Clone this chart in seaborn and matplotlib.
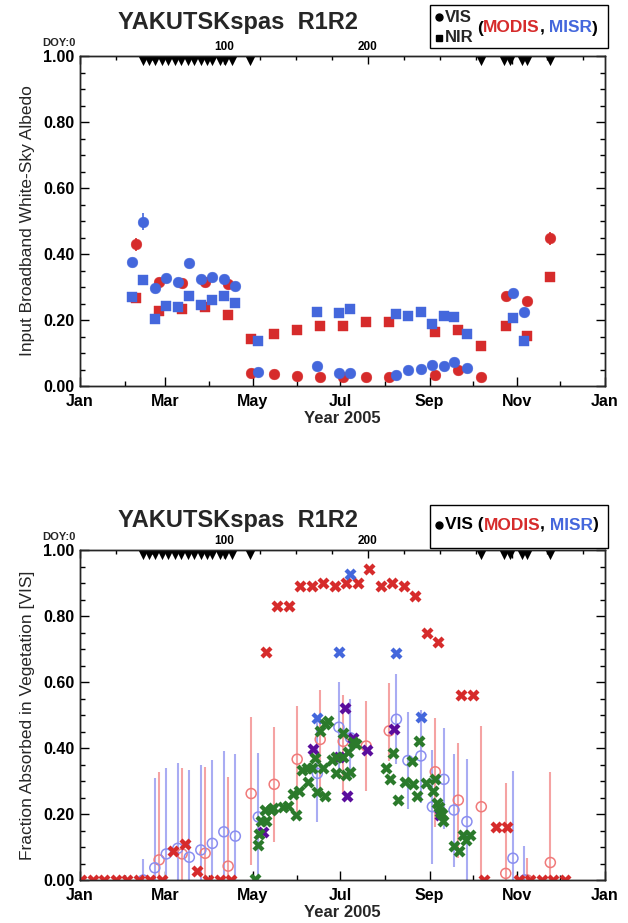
import numpy as np
import pandas as pd
import matplotlib
matplotlib.use("Agg")
import matplotlib.pyplot as plt
import matplotlib.transforms as mtransforms
from matplotlib.patches import Rectangle
from matplotlib.lines import Line2D
from matplotlib.ticker import MultipleLocator, FixedLocator, FixedFormatter
import seaborn as sns

# ---------------- data ----------------
title_text = "YAKUTSKspas  R1R2"
month_labels = ["Jan", "Mar", "May", "Jul", "Sep", "Nov", "Jan"]
month_major_doy = [0, 59, 120, 181, 243, 304, 365]
month_minor_doy = [31, 90, 151, 212, 273, 334]
doy_major = [0, 100, 200, 300]
doy_labels = ["", "100", "200", ""]
flag_doy = [44, 48, 52, 57, 61, 66, 70, 75, 79, 84, 88, 92, 97, 101, 106, 118,
            279, 295, 299, 307, 311, 327]

# top panel: broadband white-sky albedo
modis_doy = [39, 55, 71, 87, 103, 119, 135, 151, 167, 183, 199, 215, 247, 263, 279, 296, 311, 327]
modis_vis = [0.429, 0.316, 0.311, 0.316, 0.308, 0.040, 0.036, 0.030, 0.026, 0.026, 0.028, 0.028,
             0.033, 0.050, 0.026, 0.273, 0.259, 0.448]
modis_vis_err = [0.020, 0.004, 0.004, 0.004, 0.004, 0.003, 0.003, 0.002, 0.002, 0.002, 0.002, 0.002,
                 0.002, 0.003, 0.002, 0.006, 0.006, 0.020]
modis_nir = [0.268, 0.228, 0.233, 0.238, 0.215, 0.141, 0.157, 0.170, 0.182, 0.182, 0.195, 0.195,
             0.163, 0.170, 0.121, 0.182, 0.152, 0.330]

misr_doy = [36, 44, 52, 60, 68, 76, 84, 92, 100, 108, 124, 165, 180, 188, 220, 228, 237, 245,
            253, 260, 269, 301, 309]
misr_vis = [0.375, 0.498, 0.296, 0.326, 0.315, 0.372, 0.323, 0.331, 0.323, 0.303, 0.043, 0.061,
            0.038, 0.038, 0.033, 0.050, 0.053, 0.064, 0.061, 0.074, 0.056, 0.281, 0.223]
misr_vis_err = [0.012, 0.025, 0.004, 0.004, 0.004, 0.014, 0.004, 0.004, 0.004, 0.004, 0.002, 0.002,
                0.002, 0.002, 0.002, 0.002, 0.002, 0.002, 0.002, 0.002, 0.002, 0.006, 0.006]
misr_nir = [0.271, 0.321, 0.203, 0.242, 0.240, 0.274, 0.245, 0.261, 0.273, 0.251, 0.136, 0.225,
            0.222, 0.232, 0.217, 0.213, 0.223, 0.188, 0.213, 0.208, 0.157, 0.205, 0.137]

# bottom panel: FAPAR
modis8_doy = [1, 9, 17, 25, 33, 41, 49, 57, 65, 73, 81, 89, 97, 105, 129, 137, 145, 153, 161,
              169, 177, 185, 193, 201, 209, 217, 225, 233, 241, 249, 265, 273, 281, 289, 297,
              305, 313, 321, 329, 337]
modis8_fpar = [0, 0, 0, 0, 0, 0, 0, 0, 0.089, 0.109, 0.028, 0, 0, 0, 0.690, 0.830, 0.830, 0.891,
               0.891, 0.901, 0.891, 0.901, 0.901, 0.941, 0.891, 0.901, 0.891, 0.861, 0.750, 0.720,
               0.561, 0.561, 0, 0.160, 0.160, 0, 0, 0, 0, 0]

misrx_doy = [165, 180, 188, 220, 237]
misrx_fpar = [0.492, 0.690, 0.927, 0.689, 0.495]

purple_doy = [127, 162, 180, 184, 185.5, 189.5, 199.5, 218, 250.5]
purple_fpar = [0.144, 0.396, 0.372, 0.520, 0.256, 0.430, 0.395, 0.457, 0.197]

green_doy = [122.0, 123.8, 124.7, 125.9, 129.6, 128.3, 132.8, 134.4, 140.8, 144.9, 150.0, 147.9,
             152.6, 154.2, 157.6, 161.1, 158.8, 163.4, 164.5, 166.6, 170.0, 168.8, 170.4, 172.7,
             175.0, 178.0, 178.0, 182.8, 183.1, 184.6, 186.0, 188.0, 189.5, 191.9, 212.8, 215.6,
             217.4, 220.8, 226.0, 231.8, 230.9, 234.1, 235.9, 240.3, 245.3, 246.9, 248.0, 249.9,
             250.3, 251.5, 252.6, 260.3, 263.8, 266.1, 268.4, 271.2]
green_fpar = [0.002, 0.105, 0.140, 0.178, 0.178, 0.211, 0.212, 0.217, 0.221, 0.225, 0.197, 0.261,
              0.269, 0.333, 0.339, 0.338, 0.296, 0.369, 0.268, 0.453, 0.255, 0.338, 0.472, 0.481,
              0.365, 0.323, 0.374, 0.444, 0.374, 0.318, 0.388, 0.327, 0.417, 0.413, 0.338, 0.305,
              0.386, 0.243, 0.298, 0.290, 0.361, 0.255, 0.421, 0.295, 0.270, 0.305, 0.232, 0.222,
              0.207, 0.200, 0.180, 0.103, 0.089, 0.136, 0.121, 0.136]

mfc_doy = [55, 71, 87, 103, 119, 135, 151, 167, 183, 199, 215, 247, 263, 279, 296, 311, 327]
mfc_val = [0.061, 0.079, 0.081, 0.042, 0.262, 0.290, 0.366, 0.426, 0.420, 0.406, 0.452, 0.328,
           0.242, 0.222, 0.020, 0.0, 0.053]
mfc_lo = [0, 0, 0, 0, 0.045, 0.116, 0.207, 0.26, 0.265, 0.27, 0.36, 0.16, 0.066, 0.0, 0.0, 0.0, 0.0]
mfc_hi = [0.326, 0.340, 0.341, 0.311, 0.494, 0.464, 0.526, 0.577, 0.56, 0.542, 0.597, 0.492,
          0.416, 0.467, 0.295, 0.068, 0.328]

mbc_doy = [44, 52, 60, 68, 76, 84, 92, 100, 108, 124, 165, 180, 188, 220, 228, 237, 245, 253,
           260, 269, 301, 309]
mbc_val = [0.0, 0.037, 0.079, 0.096, 0.069, 0.091, 0.111, 0.146, 0.133, 0.191, 0.323, 0.463,
           0.431, 0.487, 0.362, 0.376, 0.222, 0.305, 0.212, 0.177, 0.066, 0.0]
mbc_lo = [0, 0, 0, 0, 0, 0, 0, 0, 0, 0, 0.177, 0.33, 0.31, 0.353, 0.215, 0.232, 0.048, 0.154,
          0.040, 0.0, 0.0, 0.0]
mbc_hi = [0.063, 0.31, 0.340, 0.354, 0.333, 0.348, 0.364, 0.392, 0.382, 0.384, 0.49, 0.599,
          0.55, 0.624, 0.508, 0.516, 0.394, 0.46, 0.382, 0.366, 0.331, 0.103]

# ---------------- style ----------------
sns.set_theme(style="ticks")
plt.rcParams["font.family"] = ["Liberation Sans", "DejaVu Sans"]
plt.rcParams["axes.linewidth"] = 1.0

RED = "#d62b2b"
BLUE = "#4467dc"
LRED = "#f07a7a"
LBLUE = "#8a8ef0"
LRED_BAR = "#f5a3a3"
LBLUE_BAR = "#a9acf3"
PURPLE = "#5a0d9c"
GREEN = "#2b7a2b"

W, H = 628, 923
fig = plt.figure(figsize=(W / 100, H / 100), dpi=100)


def fx(px):
    return px / W


def fy(py):
    return 1 - py / H


def setup_axes(ax, ylabel):
    ax.set_xlim(0, 365)
    ax.set_ylim(0, 1)
    ax.xaxis.set_major_locator(FixedLocator(month_major_doy))
    ax.xaxis.set_major_formatter(FixedFormatter(month_labels))
    ax.xaxis.set_minor_locator(FixedLocator(month_minor_doy))
    ax.yaxis.set_major_locator(MultipleLocator(0.2))
    ax.yaxis.set_minor_locator(MultipleLocator(0.05))
    ax.yaxis.set_major_formatter(plt.FormatStrFormatter("%.2f"))
    ax.tick_params(axis="both", which="both", direction="in", colors="black")
    ax.tick_params(axis="y", which="both", right=True, left=True)
    ax.tick_params(axis="x", which="both", top=False, bottom=True)
    ax.tick_params(axis="both", which="major", length=6.5, width=1.0, labelsize=11.5, pad=4)
    ax.tick_params(axis="both", which="minor", length=3.6, width=1.0)
    ax.tick_params(axis="x", which="major", pad=6)
    for lab in ax.get_xticklabels() + ax.get_yticklabels():
        lab.set_fontweight("bold")
    ax.set_xlabel("Year 2005", fontsize=12, fontweight="bold", labelpad=1)
    ax.set_ylabel(ylabel, fontsize=12.5, labelpad=6)
    for s in ax.spines.values():
        s.set_color("black")
        s.set_linewidth(1.0)
    # DOY axis on top (twin shares y with ax, so y ticks stay on ax)
    axt = ax.twiny()
    axt.set_xlim(0, 365)
    axt.xaxis.set_major_locator(FixedLocator(doy_major))
    axt.xaxis.set_major_formatter(FixedFormatter(doy_labels))
    axt.xaxis.set_minor_locator(MultipleLocator(25))
    axt.tick_params(axis="x", which="both", direction="in", colors="black")
    axt.tick_params(axis="x", which="major", length=6, width=1.0, labelsize=8.5, pad=2)
    axt.tick_params(axis="x", which="minor", length=3, width=1.0)
    for lab in axt.get_xticklabels():
        lab.set_fontweight("bold")
    # flag triangles along top edge
    trans = mtransforms.blended_transform_factory(ax.transData, ax.transAxes)
    ax.scatter(flag_doy, [0.986] * len(flag_doy), marker="v", s=44, color="black",
               linewidths=0, transform=trans, zorder=10)
    return axt


def draw_title(py):
    fig.text(fx(238), fy(py), title_text, fontsize=17, fontweight="bold", ha="center", va="center")


def draw_pieces(x_px, y_px, pieces, fontsize):
    renderer = fig.canvas.get_renderer()
    x = x_px
    for txt, color in pieces:
        t = fig.text(fx(x), fy(y_px), txt, color=color, fontsize=fontsize,
                     fontweight="bold", ha="left", va="center", zorder=20)
        bb = t.get_window_extent(renderer)
        x += bb.width


def legend_box(y0, y1):
    r = Rectangle((fx(430), fy(y1)), fx(608) - fx(430), fy(y0) - fy(y1),
                  transform=fig.transFigure, facecolor="white", edgecolor="black",
                  linewidth=1.0, zorder=15)
    fig.add_artist(r)


# ---------------- top panel ----------------
ax1 = fig.add_axes([fx(80), fy(386), fx(605) - fx(80), fy(56) - fy(386)])
top_modis = pd.DataFrame({"doy": modis_doy, "vis": modis_vis, "err": modis_vis_err, "nir": modis_nir})
top_misr = pd.DataFrame({"doy": misr_doy, "vis": misr_vis, "err": misr_vis_err, "nir": misr_nir})

for df, col, z in [(top_modis, RED, 3), (top_misr, BLUE, 4)]:
    ax1.errorbar(df["doy"], df["vis"], yerr=df["err"], fmt="none", ecolor=col, elinewidth=1.2,
                 capsize=0, zorder=z)
    sns.scatterplot(data=df, x="doy", y="nir", marker="s", s=55, color=col, edgecolor=col,
                    linewidth=0.3, ax=ax1, zorder=z, legend=False)
    sns.scatterplot(data=df, x="doy", y="vis", marker="o", s=60, color=col, edgecolor=col,
                    linewidth=0.3, ax=ax1, zorder=z, legend=False)
setup_axes(ax1, "Input Broadband White-Sky Albedo")

# ---------------- bottom panel ----------------
ax2 = fig.add_axes([fx(80), fy(880), fx(605) - fx(80), fy(550) - fy(880)])
ax2.vlines(mfc_doy, mfc_lo, mfc_hi, color=LRED_BAR, linewidth=1.5, zorder=2)
ax2.vlines(mbc_doy, mbc_lo, mbc_hi, color=LBLUE_BAR, linewidth=1.5, zorder=2)
sns.scatterplot(x=mfc_doy, y=mfc_val, marker="o", s=52, facecolor="none", edgecolor=LRED,
                linewidth=1.1, ax=ax2, zorder=3, legend=False)
sns.scatterplot(x=mbc_doy, y=mbc_val, marker="o", s=52, facecolor="none", edgecolor=LBLUE,
                linewidth=1.1, ax=ax2, zorder=3, legend=False)
sns.scatterplot(x=modis8_doy, y=modis8_fpar, marker="X", s=75, color=RED, linewidth=0,
                ax=ax2, zorder=5, legend=False)
sns.scatterplot(x=misrx_doy, y=misrx_fpar, marker="X", s=75, color=BLUE, linewidth=0,
                ax=ax2, zorder=5, legend=False)
sns.scatterplot(x=purple_doy, y=purple_fpar, marker="X", s=75, color=PURPLE, linewidth=0,
                ax=ax2, zorder=6, legend=False)
sns.scatterplot(x=green_doy, y=green_fpar, marker="X", s=75, color=GREEN, linewidth=0,
                ax=ax2, zorder=7, legend=False)
setup_axes(ax2, "Fraction Absorbed in Vegetation [VIS]")

# ---------------- titles, DOY:0 labels, legends ----------------
draw_title(22)
draw_title(521)
for py in (43, 537):
    fig.text(fx(76), fy(py), "DOY:0", fontsize=8, fontweight="bold", ha="right", va="center")

legend_box(5, 48)
fig.add_artist(Line2D([fx(439)], [fy(17)], marker="o", markersize=5, color="black",
                      transform=fig.transFigure, zorder=20))
fig.add_artist(Line2D([fx(439)], [fy(38)], marker="s", markersize=5, color="black",
                      transform=fig.transFigure, zorder=20))
fig.text(fx(445), fy(17), "VIS", fontsize=12, fontweight="bold", ha="left", va="center", zorder=20)
fig.text(fx(445), fy(38), "NIR", fontsize=12, fontweight="bold", ha="left", va="center", zorder=20)
draw_pieces(477, 28, [("(", "black"), ("MODIS", RED), (",", "black"), (" MISR", BLUE), (")", "black")], 12.5)

legend_box(505, 548)
fig.add_artist(Line2D([fx(439)], [fy(525)], marker="o", markersize=5, color="black",
                      transform=fig.transFigure, zorder=20))
draw_pieces(445, 525, [("VIS (", "black"), ("MODIS", RED), (",", "black"), (" MISR", BLUE), (")", "black")], 12.5)

fig.savefig("out.png", dpi=100)
